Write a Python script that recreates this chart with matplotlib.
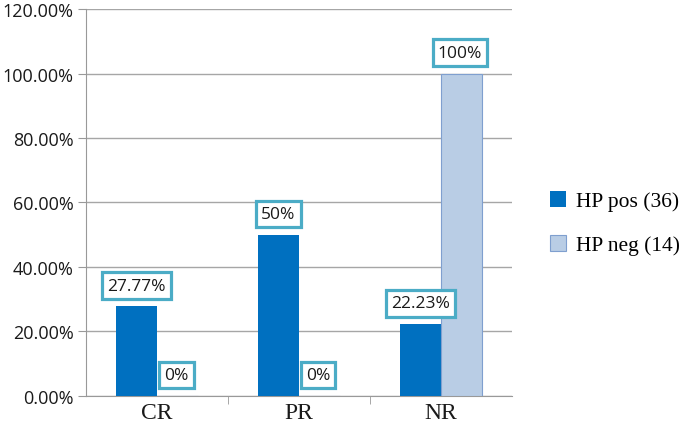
import numpy as np
import matplotlib
matplotlib.use("Agg")
from matplotlib import pyplot as plt

categories = ["CR", "PR", "NR"]
hp_pos = [27.77, 50.0, 22.23]
hp_neg = [0.0, 0.0, 100.0]
pos_labels = ["27.77%", "50%", "22.23%"]
neg_labels = ["0%", "0%", "100%"]
yticks = [0, 20, 40, 60, 80, 100, 120]

fig = plt.figure(figsize=(6.85, 4.35), dpi=100)
ax = fig.add_axes([0.1255, 0.0874, 0.6215, 0.8896])

x = np.arange(len(categories))
w = 0.29
ax.bar(x - w/2, hp_pos, w, color="#0070C0", label="HP pos (36)", zorder=3)
ax.bar(x + w/2, hp_neg, w, color="#B9CDE5", edgecolor="#7F9FCF", linewidth=0.8,
       label="HP neg (14)", zorder=3)

box = dict(boxstyle="square,pad=0.3", fc="white", ec="#4BACC6", lw=2.3)
for i in range(len(categories)):
    ax.annotate(pos_labels[i], (x[i] - w/2, hp_pos[i]), xytext=(0, 15),
                textcoords="offset points", ha="center", va="center",
                fontsize=12.5, family="Open Sans", color="#1a1a1a", bbox=box, zorder=5)
    ax.annotate(neg_labels[i], (x[i] + w/2, hp_neg[i]), xytext=(-1, 15),
                textcoords="offset points", ha="center", va="center",
                fontsize=12.5, family="Open Sans", color="#1a1a1a", bbox=box, zorder=5)

ax.set_xlim(-0.5, 2.5)
ax.set_ylim(0, 120)
ax.set_yticks(yticks)
ax.set_yticklabels(["%.2f%%" % t for t in yticks], family="Open Sans", fontsize=13, color="#1a1a1a")
ax.set_xticks(x)
ax.set_xticklabels(categories, family="Liberation Serif", fontsize=17, color="#1a1a1a")
ax.set_xticks([0.5, 1.5], minor=True)
ax.tick_params(axis="x", which="major", length=0, pad=4)
ax.tick_params(axis="x", which="minor", length=6, color="#999999", direction="out")
ax.tick_params(axis="y", length=6, color="#999999", direction="out", pad=3)
ax.yaxis.grid(True, color="#A6A6A6", linewidth=1.0, zorder=0)
for s in ["top", "right"]:
    ax.spines[s].set_visible(False)
for s in ["left", "bottom"]:
    ax.spines[s].set_color("#999999")

leg = ax.legend(loc="center left", bbox_to_anchor=(1.045, 0.447), frameon=False,
                prop={"family": "Liberation Serif", "size": 15.5},
                handlelength=0.75, handleheight=0.75, labelspacing=1.1, handletextpad=0.45)

fig.savefig("out.png", dpi=100)
